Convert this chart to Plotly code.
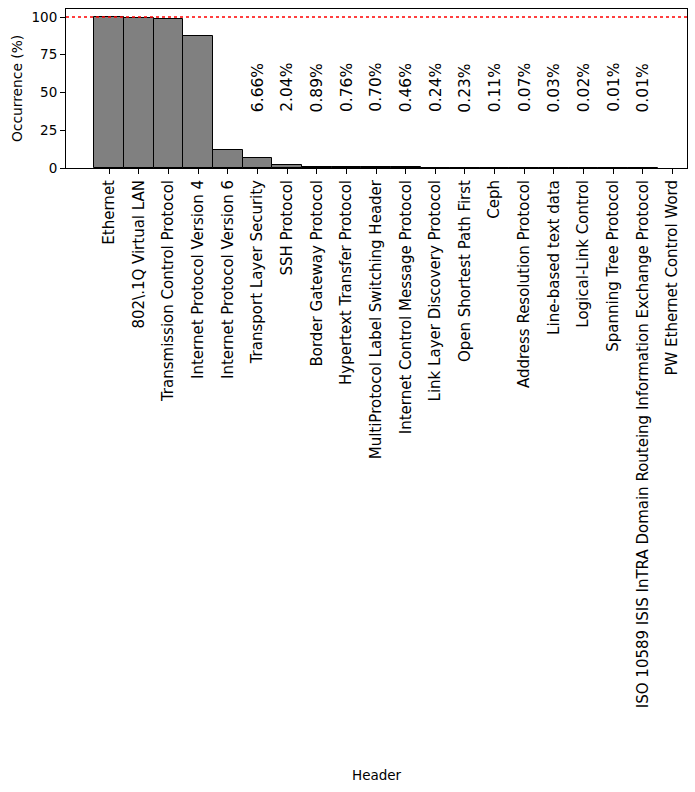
import plotly.graph_objects as go

categories = [
    "Ethernet", "802\\.1Q Virtual LAN", "Transmission Control Protocol",
    "Internet Protocol Version 4", "Internet Protocol Version 6",
    "Transport Layer Security", "SSH Protocol", "Border Gateway Protocol",
    "Hypertext Transfer Protocol", "MultiProtocol Label Switching Header",
    "Internet Control Message Protocol", "Link Layer Discovery Protocol",
    "Open Shortest Path First", "Ceph", "Address Resolution Protocol",
    "Line-based text data", "Logical-Link Control", "Spanning Tree Protocol",
    "ISO 10589 ISIS InTRA Domain Routeing Information Exchange Protocol",
    "PW Ethernet Control Word",
]
values = [100.0, 99.3, 98.7, 87.4, 11.7, 6.66, 2.04, 0.89, 0.76, 0.70,
          0.46, 0.24, 0.23, 0.11, 0.07, 0.03, 0.02, 0.01, 0.01, None]
label_threshold = 10
reference_line = 100
y_ticks = [0, 25, 50, 75, 100]

FONT = "DejaVu Sans"
W, H = 695, 792
L, R, T, B = 66, 8, 9, 624
pw, ph = W - L - R, H - T - B
x_idx = list(range(len(categories)))

fig = go.Figure()
fig.add_trace(go.Bar(
    x=x_idx, y=values, width=1.0,
    marker=dict(color="#808080", line=dict(color="black", width=1)),
    showlegend=False, hoverinfo="skip",
))

for i, v in enumerate(values):
    if v is not None and v < label_threshold:
        fig.add_annotation(
            x=i, y=53.2, text=f"{v:.2f}%", textangle=-90, showarrow=False,
            xref="x", yref="y", xanchor="center", yanchor="middle",
            font=dict(family=FONT, size=15.5, color="black"),
        )

fig.add_shape(type="line", xref="paper", yref="y", x0=0, x1=1,
              y0=reference_line, y1=reference_line,
              line=dict(color="red", width=1.7, dash="dot"))

# axis titles
fig.add_annotation(x=0.5, y=(H - B - 775) / ph, xref="paper", yref="paper",
                   text="Header", showarrow=False, xanchor="center", yanchor="middle",
                   font=dict(family=FONT, size=13.5, color="black"))
fig.add_annotation(x=(17 - L) / pw, y=(H - B - 89) / ph, xref="paper", yref="paper",
                   text="Occurrence (%)", textangle=-90, showarrow=False,
                   xanchor="center", yanchor="middle",
                   font=dict(family=FONT, size=13.8, color="black"))

fig.update_layout(
    width=W, height=H,
    margin=dict(l=L, r=R, t=T, b=B, pad=0),
    plot_bgcolor="white", paper_bgcolor="white",
    font=dict(family=FONT, color="black"),
    bargap=0,
)
fig.update_xaxes(
    range=[-1.46, 19.49], tickmode="array", tickvals=x_idx, ticktext=categories,
    tickangle=-90, tickfont=dict(family=FONT, size=15, color="black"),
    ticks="outside", ticklen=5, tickcolor="black", tickwidth=1,
    showline=True, linecolor="black", linewidth=1, mirror=True,
    showgrid=False, zeroline=False, automargin=False,
)
fig.update_yaxes(
    range=[0, 105.3], tickmode="array", tickvals=y_ticks,
    ticktext=[str(t) for t in y_ticks],
    tickfont=dict(family=FONT, size=13.5, color="black"),
    ticks="outside", ticklen=5, tickcolor="black", tickwidth=1,
    showline=True, linecolor="black", linewidth=1, mirror=True,
    showgrid=False, zeroline=False, automargin=False,
)

fig.write_html("out.html", config={"displayModeBar": False},
               post_script="document.body.style.margin='0';document.body.style.overflow='hidden';")
